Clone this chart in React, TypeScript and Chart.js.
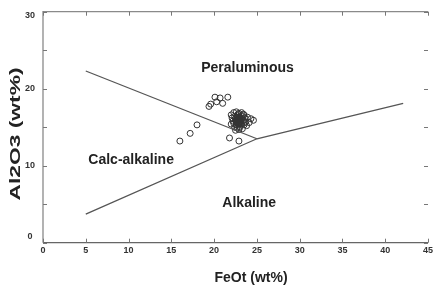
import React, { useEffect, useRef } from "react";
import { Chart, registerables } from "chart.js";

Chart.register(...registerables);

// ---- data ----
const xTickValues = [0, 5, 10, 15, 20, 25, 30, 35, 40, 45];
const xTickLabels = ["0", "5", "10", "15", "20", "25", "30", "35", "40", "45"];
const yTickValues = [0, 5, 10, 15, 20, 25, 30];
const yTickLabels = ["0", "", "10", "", "20", "", "30"];

const xTitle = "FeOt (wt%)";
const yTitle = "Al2O3 (wt%)";

const regionNames = ["Peraluminous", "Calc-alkaline", "Alkaline"];
const regionFeO = [23.9, 10.3, 24.1];
const regionAl = [22.7, 10.7, 5.2];

// boundary lines
const upperBoundaryFeO = [5, 25.0];
const upperBoundaryAl = [22.3, 13.5];
const lowerBoundaryFeO = [5, 25.0, 42.1];
const lowerBoundaryAl = [3.7, 13.5, 18.1];

// samples
const sampleFeO = [
  16.0, 17.2, 18.0, 19.4, 19.6, 20.1, 20.3, 20.7, 21.0, 21.6, 21.8, 22.9,
  22.0, 22.3, 22.6, 22.9, 23.2, 23.5, 22.1, 22.4, 22.7, 23.0, 23.3, 23.6,
  23.9, 24.3, 22.2, 22.5, 22.8, 23.1, 23.4, 23.7, 24.1, 24.6, 22.0, 22.3,
  22.6, 22.9, 23.2, 23.5, 23.8, 22.4, 22.7, 23.0, 23.3, 22.5, 22.9, 23.6,
  22.8, 23.1, 22.6, 23.4,
  22.7, 22.9, 23.1, 22.8, 23.0, 22.6, 22.9, 23.2, 22.7, 23.0, 22.8, 22.5,
  23.1, 22.9, 22.7, 23.0, 22.8, 22.6, 23.2, 22.9,
];
const sampleAl = [
  13.2, 14.2, 15.3, 17.7, 18.0, 18.9, 18.3, 18.8, 18.1, 18.9, 13.6, 13.2,
  16.6, 16.9, 17.0, 16.8, 16.9, 16.6, 16.2, 16.4, 16.5, 16.3, 16.4, 16.2,
  16.3, 16.1, 15.8, 15.9, 16.0, 15.8, 15.9, 15.7, 15.6, 15.9, 15.4, 15.5,
  15.3, 15.5, 15.4, 15.3, 15.2, 15.0, 14.9, 15.0, 14.8, 14.6, 14.7, 15.6,
  16.7, 16.1, 15.7, 16.7,
  16.0, 16.1, 15.9, 15.8, 15.7, 15.9, 15.6, 16.0, 15.5, 16.2, 16.3, 16.1,
  15.5, 15.4, 16.2, 15.6, 15.4, 15.6, 16.1, 15.9,
];

const toPoints = (xs: number[], ys: number[]) => xs.map((x, i) => ({ x, y: ys[i] }));

const decorPlugin = {
  id: "decor",
  afterDraw(chart: any) {
    const { ctx, chartArea, scales } = chart;
    const xs = scales.x;
    const ys = scales.y;
    const { left, right, top, bottom } = chartArea;
    ctx.save();

    // frame
    ctx.strokeStyle = "#8a8a8a";
    ctx.lineWidth = 1.3;
    ctx.beginPath();
    ctx.moveTo(left, bottom);
    ctx.lineTo(left, top);
    ctx.lineTo(right, top);
    ctx.stroke();
    ctx.strokeStyle = "#666";
    ctx.beginPath();
    ctx.moveTo(left, bottom);
    ctx.lineTo(right, bottom);
    ctx.stroke();

    // inward ticks
    ctx.strokeStyle = "#777";
    ctx.lineWidth = 1;
    const tl = 4;
    xTickValues.forEach((v) => {
      const px = Math.round(xs.getPixelForValue(v)) + 0.5;
      ctx.beginPath();
      ctx.moveTo(px, bottom);
      ctx.lineTo(px, bottom - tl);
      ctx.moveTo(px, top);
      ctx.lineTo(px, top + tl);
      ctx.stroke();
    });
    yTickValues.forEach((v) => {
      const py = Math.round(ys.getPixelForValue(v)) + 0.5;
      ctx.beginPath();
      ctx.moveTo(left, py);
      ctx.lineTo(left + tl, py);
      ctx.moveTo(right, py);
      ctx.lineTo(right - tl, py);
      ctx.stroke();
    });

    // tick labels
    ctx.fillStyle = "#333";
    ctx.font = "bold 9px 'Liberation Sans', Arial, sans-serif";
    ctx.textAlign = "center";
    ctx.textBaseline = "middle";
    xTickValues.forEach((v, i) => {
      ctx.fillText(xTickLabels[i], xs.getPixelForValue(v), bottom + 8);
    });
    yTickValues.forEach((v, i) => {
      if (!yTickLabels[i]) return;
      let py = ys.getPixelForValue(v);
      py = Math.min(Math.max(py, top + 4), bottom - 6);
      ctx.fillText(yTickLabels[i], left - 13, py);
    });

    // region names
    ctx.fillStyle = "#222";
    ctx.font = "bold 14px 'Liberation Sans', Arial, sans-serif";
    regionNames.forEach((name, i) => {
      ctx.fillText(name, xs.getPixelForValue(regionFeO[i]), ys.getPixelForValue(regionAl[i]));
    });

    // axis titles
    ctx.font = "bold 14px 'Liberation Sans', Arial, sans-serif";
    ctx.fillText(xTitle, 251, 278);
    const w = ctx.measureText(yTitle).width;
    ctx.translate(16, 134);
    ctx.rotate(-Math.PI / 2);
    ctx.scale(133 / w, 1);
    ctx.fillText(yTitle, 0, 0);

    ctx.restore();
  },
};

export default function App() {
  const ref = useRef<HTMLCanvasElement>(null);
  useEffect(() => {
    if (!ref.current) return;
    const chart = new Chart(ref.current, {
      type: "scatter",
      data: {
        datasets: [
          {
            type: "line",
            data: toPoints(upperBoundaryFeO, upperBoundaryAl),
            borderColor: "#555",
            borderWidth: 1.3,
            pointRadius: 0,
            fill: false,
          } as any,
          {
            type: "line",
            data: toPoints(lowerBoundaryFeO, lowerBoundaryAl),
            borderColor: "#555",
            borderWidth: 1.3,
            pointRadius: 0,
            fill: false,
          } as any,
          {
            data: toPoints(sampleFeO, sampleAl),
            pointRadius: 3,
            pointStyle: "circle",
            backgroundColor: "rgba(255,255,255,0)",
            borderColor: "#333",
            borderWidth: 1,
          },
        ],
      },
      options: {
        animation: false,
        responsive: false,
        devicePixelRatio: 1,
        layout: { padding: { left: 43, right: 0, top: 11.7, bottom: 46.3 } },
        plugins: { legend: { display: false }, tooltip: { enabled: false } },
        scales: {
          x: { type: "linear", min: 0, max: 45, display: false },
          y: { type: "linear", min: 0, max: 30, display: false },
        },
      },
      plugins: [decorPlugin],
    });
    return () => chart.destroy();
  }, []);
  return (
    <div style={{ position: "fixed", left: 0, top: 0, width: 433, height: 289, background: "#fff" }}>
      <canvas ref={ref} width={433} height={289} />
    </div>
  );
}
